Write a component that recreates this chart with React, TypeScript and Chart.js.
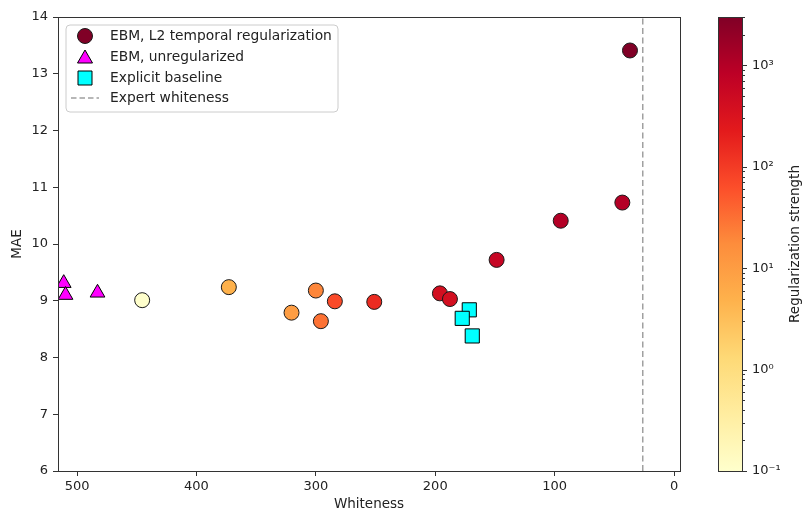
import React, { useEffect, useRef } from 'react';
import { Chart, registerables } from 'chart.js';

Chart.register(...registerables);

const FONT = "'DejaVu Sans', sans-serif";

// EBM, L2 temporal regularization
const regWhiteness = [36.9, 43.3, 94.9, 148.6, 196.1, 187.7, 251.1, 284.1, 295.8, 300.0, 320.4, 372.9, 445.5];
const regMAE = [13.41, 10.73, 10.41, 9.72, 9.13, 9.03, 8.98, 8.99, 8.64, 9.18, 8.79, 9.24, 9.01];
const regStrength = [3000, 1000, 1000, 600, 400, 400, 150, 70, 30, 20, 10, 5, 0.1];

// EBM, unregularized
const unregWhiteness = [511.2, 509.7, 482.9];
const unregMAE = [9.31, 9.1, 9.14];

// Explicit baseline
const baseWhiteness = [171.5, 177.4, 169.0];
const baseMAE = [8.84, 8.69, 8.38];

// Expert whiteness
const expertWhiteness = 26.2;

const seriesLabels = ['EBM, L2 temporal regularization', 'EBM, unregularized', 'Explicit baseline', 'Expert whiteness'];

const xTickValues = [500, 400, 300, 200, 100, 0];
const yTickValues = [6, 7, 8, 9, 10, 11, 12, 13, 14];
const cbarMajorTicks = [0.1, 1, 10, 100, 1000];
const cbarMajorLabels = ['10⁻¹', '10⁰', '10¹', '10²', '10³'];
const cbarMinorTicks = [0.2, 0.3, 0.4, 0.5, 0.6, 0.7, 0.8, 0.9, 2, 3, 4, 5, 6, 7, 8, 9, 20, 30, 40, 50, 60, 70, 80, 90, 200, 300, 400, 500, 600, 700, 800, 900, 2000, 3000];
const cbarMin = 0.1;
const cbarMax = 3000;

const YlOrRd = ['#ffffcc', '#ffeda0', '#fed976', '#feb24c', '#fd8d3c', '#fc4e2a', '#e31a1c', '#bd0026', '#800026'];

function hexToRgb(h: string) {
  const n = parseInt(h.slice(1), 16);
  return [(n >> 16) & 255, (n >> 8) & 255, n & 255];
}

function colorFor(v: number) {
  let t = (Math.log10(v) - Math.log10(cbarMin)) / (Math.log10(cbarMax) - Math.log10(cbarMin));
  t = Math.max(0, Math.min(1, t));
  const pos = t * (YlOrRd.length - 1);
  const i = Math.min(Math.floor(pos), YlOrRd.length - 2);
  const f = pos - i;
  const a = hexToRgb(YlOrRd[i]);
  const b = hexToRgb(YlOrRd[i + 1]);
  const c = a.map((av, k) => Math.round(av + (b[k] - av) * f));
  return `rgb(${c[0]},${c[1]},${c[2]})`;
}

const framePlugin = {
  id: 'frame',
  afterDraw(chart: any) {
    const { ctx, chartArea: a } = chart;
    ctx.save();
    ctx.strokeStyle = '#333';
    ctx.lineWidth = 1;
    ctx.strokeRect(Math.round(a.left) + 0.5, Math.round(a.top) + 0.5, Math.round(a.right - a.left), Math.round(a.bottom - a.top));
    ctx.restore();
  },
};

const legendPlugin = {
  id: 'customLegend',
  afterDraw(chart: any) {
    const { ctx, chartArea: a } = chart;
    const ds = chart.data.datasets;
    const x0 = a.left + 8;
    const y0 = a.top + 8;
    const w = 272;
    const h = 87;
    ctx.save();
    ctx.beginPath();
    const r = 4;
    ctx.moveTo(x0 + r, y0);
    ctx.arcTo(x0 + w, y0, x0 + w, y0 + h, r);
    ctx.arcTo(x0 + w, y0 + h, x0, y0 + h, r);
    ctx.arcTo(x0, y0 + h, x0, y0, r);
    ctx.arcTo(x0, y0, x0 + w, y0, r);
    ctx.closePath();
    ctx.fillStyle = 'rgba(255,255,255,0.8)';
    ctx.fill();
    ctx.strokeStyle = '#cccccc';
    ctx.lineWidth = 1;
    ctx.stroke();

    const mx = x0 + 19;
    const tx = x0 + 44;
    const rows = [y0 + 11, y0 + 32, y0 + 53, y0 + 73];
    // circle
    ctx.beginPath();
    ctx.arc(mx, rows[0], 7.5, 0, Math.PI * 2);
    ctx.fillStyle = colorFor(regStrength[0]);
    ctx.fill();
    ctx.strokeStyle = '#1a1a1a';
    ctx.stroke();
    // triangle
    ctx.beginPath();
    ctx.moveTo(mx, rows[1] - 7);
    ctx.lineTo(mx + 7.5, rows[1] + 6);
    ctx.lineTo(mx - 7.5, rows[1] + 6);
    ctx.closePath();
    ctx.fillStyle = ds[1].backgroundColor;
    ctx.fill();
    ctx.strokeStyle = '#000';
    ctx.stroke();
    // square
    ctx.beginPath();
    ctx.rect(mx - 7, rows[2] - 7, 14, 14);
    ctx.fillStyle = ds[2].backgroundColor;
    ctx.fill();
    ctx.strokeStyle = '#000';
    ctx.stroke();
    // dashed line
    ctx.beginPath();
    ctx.setLineDash([5.5, 3]);
    ctx.moveTo(x0 + 5, rows[3]);
    ctx.lineTo(x0 + 33, rows[3]);
    ctx.strokeStyle = ds[3].borderColor;
    ctx.lineWidth = 1.5;
    ctx.stroke();
    ctx.setLineDash([]);

    ctx.fillStyle = '#222';
    ctx.font = `13.8px ${FONT}`;
    ctx.textBaseline = 'middle';
    ctx.textAlign = 'left';
    for (let i = 0; i < 4; i++) {
      ctx.fillText(ds[i].label, tx, rows[i]);
    }
    ctx.restore();
  },
};

const cbarPlugin = {
  id: 'cbar',
  beforeDatasetsDraw(chart: any) {
    const { ctx, chartArea: a } = chart;
    const g = ctx.createLinearGradient(0, a.bottom, 0, a.top);
    YlOrRd.forEach((c, i) => g.addColorStop(i / (YlOrRd.length - 1), c));
    ctx.save();
    ctx.fillStyle = g;
    ctx.fillRect(a.left, a.top, a.right - a.left, a.bottom - a.top);
    ctx.restore();
  },
  afterDraw(chart: any) {
    const { ctx, chartArea: a } = chart;
    const scale = chart.scales.y;
    ctx.save();
    ctx.strokeStyle = '#333';
    ctx.lineWidth = 1;
    ctx.strokeRect(Math.round(a.left) + 0.5, Math.round(a.top) + 0.5, Math.round(a.right - a.left), Math.round(a.bottom - a.top));
    ctx.beginPath();
    scale.ticks.forEach((t: any) => {
      const major = cbarMajorTicks.some((m) => Math.abs(m - t.value) / m < 1e-6);
      const y = Math.round(scale.getPixelForValue(t.value)) + 0.5;
      ctx.moveTo(a.right, y);
      ctx.lineTo(a.right + (major ? 5 : 3), y);
    });
    ctx.stroke();
    // colorbar label
    ctx.translate(chart.width - 8, (a.top + a.bottom) / 2);
    ctx.rotate(-Math.PI / 2);
    ctx.fillStyle = '#222';
    ctx.font = `13.5px ${FONT}`;
    ctx.textAlign = 'center';
    ctx.textBaseline = 'middle';
    ctx.fillText('Regularization strength', 0, 0);
    ctx.restore();
  },
};

export default function App() {
  const mainRef = useRef<HTMLCanvasElement>(null);
  const cbarRef = useRef<HTMLCanvasElement>(null);

  useEffect(() => {
    const tickFont = { family: FONT, size: 13 };
    const main = new Chart(mainRef.current as HTMLCanvasElement, {
      type: 'scatter',
      data: {
        datasets: [
          {
            label: seriesLabels[0],
            data: regWhiteness.map((x, i) => ({ x, y: regMAE[i] })),
            pointStyle: 'circle',
            pointRadius: 7.5,
            backgroundColor: regStrength.map(colorFor),
            borderColor: '#1a1a1a',
            borderWidth: 1,
            order: 3,
          },
          {
            label: seriesLabels[1],
            data: unregWhiteness.map((x, i) => ({ x, y: unregMAE[i] })),
            pointStyle: 'triangle',
            pointRadius: 8.5,
            backgroundColor: '#ff00ff',
            borderColor: '#000',
            borderWidth: 1,
            order: 2,
          },
          {
            label: seriesLabels[2],
            data: baseWhiteness.map((x, i) => ({ x, y: baseMAE[i] })),
            pointStyle: 'rect',
            pointRadius: 10,
            backgroundColor: '#00ffff',
            borderColor: '#000',
            borderWidth: 1,
            order: 1,
          },
          {
            label: seriesLabels[3],
            data: [
              { x: expertWhiteness, y: yTickValues[0] },
              { x: expertWhiteness, y: yTickValues[yTickValues.length - 1] },
            ],
            showLine: true,
            pointRadius: 0,
            borderColor: '#a0a0a0',
            borderWidth: 1.5,
            borderDash: [6, 3.5],
            order: 4,
          } as any,
        ],
      },
      options: {
        animation: false,
        responsive: false,
        layout: { padding: { top: 17, right: 20, left: 0, bottom: 0 } },
        plugins: { legend: { display: false }, tooltip: { enabled: false } },
        scales: {
          x: {
            type: 'linear',
            reverse: true,
            min: -5,
            max: 516,
            afterBuildTicks: (s: any) => {
              s.ticks = xTickValues.map((v) => ({ value: v }));
            },
            afterFit: (s: any) => {
              s.height = 45;
            },
            ticks: { font: tickFont, color: '#222', padding: 3, autoSkip: false, maxRotation: 0 },
            grid: { display: true, drawOnChartArea: false, drawTicks: true, tickLength: 5, color: '#333' },
            border: { display: false },
            title: { display: true, text: 'Whiteness', font: { family: FONT, size: 13.5 }, color: '#222', padding: { top: 0, bottom: 3 } },
          },
          y: {
            type: 'linear',
            min: 6,
            max: 14,
            afterBuildTicks: (s: any) => {
              s.ticks = yTickValues.map((v) => ({ value: v }));
            },
            afterFit: (s: any) => {
              s.width = 58;
            },
            ticks: { font: tickFont, color: '#222', padding: 5, autoSkip: false },
            grid: { display: true, drawOnChartArea: false, drawTicks: true, tickLength: 5, color: '#333' },
            border: { display: false },
            title: { display: true, text: 'MAE', font: { family: FONT, size: 13.5 }, color: '#222', padding: { top: 9, bottom: 0 } },
          },
        },
      },
      plugins: [framePlugin, legendPlugin],
    } as any);

    const cbar = new Chart(cbarRef.current as HTMLCanvasElement, {
      type: 'scatter',
      data: { datasets: [] },
      options: {
        animation: false,
        responsive: false,
        layout: { padding: { top: 17, right: 0, left: 18, bottom: 45 } },
        plugins: { legend: { display: false }, tooltip: { enabled: false } },
        scales: {
          x: { display: false },
          y: {
            type: 'logarithmic',
            position: 'right',
            min: cbarMin,
            max: cbarMax,
            afterBuildTicks: (s: any) => {
              s.ticks = [...cbarMajorTicks, ...cbarMinorTicks].sort((p, q) => p - q).map((v) => ({ value: v }));
            },
            afterFit: (s: any) => {
              s.width = 61;
            },
            ticks: {
              font: tickFont,
              color: '#222',
              padding: 5,
              autoSkip: false,
              callback: (v: any) => {
                const idx = cbarMajorTicks.findIndex((m) => Math.abs(m - Number(v)) / m < 1e-6);
                return idx >= 0 ? cbarMajorLabels[idx] : '';
              },
            },
            grid: { display: true, drawOnChartArea: false, drawTicks: true, tickLength: 5, color: 'rgba(0,0,0,0)' },
            border: { display: false },
          },
        },
      },
      plugins: [cbarPlugin],
    } as any);

    return () => {
      main.destroy();
      cbar.destroy();
    };
  }, []);

  return (
    <div style={{ position: 'fixed', left: 0, top: 0, width: 803, height: 516, background: '#fff' }}>
      <canvas ref={mainRef} width={700} height={516} style={{ position: 'absolute', left: 0, top: 0, width: 700, height: 516 }} />
      <canvas ref={cbarRef} width={103} height={516} style={{ position: 'absolute', left: 700, top: 0, width: 103, height: 516 }} />
    </div>
  );
}
